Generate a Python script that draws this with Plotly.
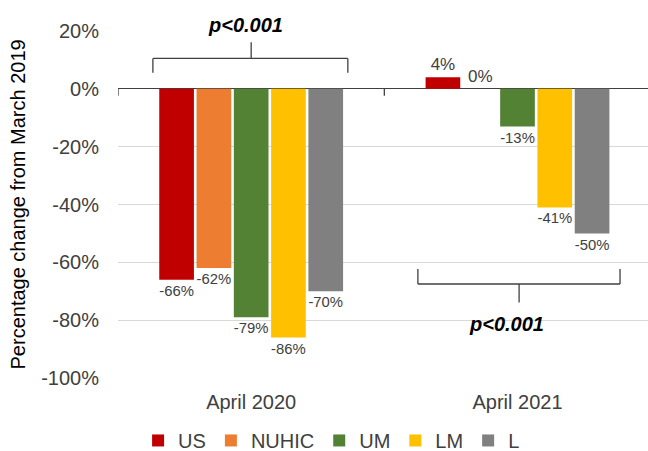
import plotly.graph_objects as go

categories = ["April 2020", "April 2021"]
series_names = ["US", "NUHIC", "UM", "LM", "L"]
us = [-66, 4]
nuhic = [-62, 0]
um = [-79, -13]
lm = [-86, -41]
l_vals = [-70, -50]
colors = ["#C00000", "#ED7D31", "#548235", "#FFC000", "#808080"]
y_ticks = [20, 0, -20, -40, -60, -80, -100]

series_values = [us, nuhic, um, lm, l_vals]

FONT = "Liberation Sans, Arial, sans-serif"
TXT = "#404040"

fig = go.Figure()
for name, vals, col in zip(series_names, series_values, colors):
    fig.add_trace(go.Bar(
        x=categories, y=vals, name=name,
        marker=dict(color=col, line=dict(width=0)),
        text=[f"{v}%" for v in vals],
        textposition="outside",
        textfont=dict(family=FONT, size=17, color=TXT),
        cliponaxis=False,
        hoverinfo="skip",
    ))

line_style = dict(color="#404040", width=1.3)
shapes = []
# bracket over April 2020
for (x0, y0, x1, y1) in [(-0.369, 5.6, -0.369, 10.5), (-0.369, 10.5, 0.363, 10.5),
                         (0.363, 10.5, 0.363, 5.6), (0.0, 10.5, 0.0, 16.1)]:
    shapes.append(dict(type="line", xref="x", yref="y", x0=x0, y0=y0, x1=x1, y1=y1, line=line_style))
# bracket under April 2021
for (x0, y0, x1, y1) in [(0.626, -62.3, 0.626, -67.5), (0.626, -67.5, 1.385, -67.5),
                         (1.385, -67.5, 1.385, -62.3), (1.006, -67.5, 1.006, -73.9)]:
    shapes.append(dict(type="line", xref="x", yref="y", x0=x0, y0=y0, x1=x1, y1=y1, line=line_style))
# category boundary ticks on the zero line
for xb in [-0.5, 0.5]:
    shapes.append(dict(type="line", xref="x", yref="y", x0=xb, x1=xb, y0=0, y1=-2.4,
                       line=dict(color="#404040", width=1.3)))

annotations = [
    dict(x=-0.02, y=1.017, xref="x", yref="paper", text="<b><i>p&lt;0.001</i></b>", showarrow=False,
         font=dict(family=FONT, size=20, color="#000000"), xanchor="center", yanchor="middle"),
    dict(x=0.96, y=-81.2, xref="x", yref="y", text="<b><i>p&lt;0.001</i></b>", showarrow=False,
         font=dict(family=FONT, size=20, color="#000000"), xanchor="center", yanchor="middle"),
    dict(x=-0.1887, y=0.5, xref="paper", yref="paper", text="Percentage change from March 2019",
         textangle=-90, showarrow=False, font=dict(family=FONT, size=20, color="#000000"),
         xanchor="center", yanchor="middle"),
]

fig.update_layout(
    width=648, height=451,
    margin=dict(l=118, r=0, t=31, b=73, autoexpand=False),
    paper_bgcolor="white", plot_bgcolor="white",
    barmode="group", bargap=0.3, bargroupgap=0.07,
    font=dict(family=FONT, size=20, color=TXT),
    showlegend=True,
    legend=dict(orientation="h", x=0.403, xanchor="center", y=-0.18, yanchor="middle",
                font=dict(family=FONT, size=20, color=TXT), itemwidth=30,
                traceorder="normal"),
    xaxis=dict(range=[-0.5, 1.49], showline=False, showgrid=False, ticks="",
               ticklabelstandoff=10, tickfont=dict(family=FONT, size=20, color=TXT)),
    yaxis=dict(range=[-100, 20], tickvals=y_ticks, ticktext=[f"{v}%" for v in y_ticks],
               showgrid=True, gridcolor="#D9D9D9", gridwidth=1,
               zeroline=True, zerolinecolor="#404040", zerolinewidth=1.3,
               showline=False, ticks="", ticklabelstandoff=18,
               tickfont=dict(family=FONT, size=20, color=TXT)),
    shapes=shapes,
    annotations=annotations,
)

fig.write_html("out.html",
               config={"displayModeBar": False},
               post_script="document.body.style.margin='0px';document.body.style.overflow='hidden';")
